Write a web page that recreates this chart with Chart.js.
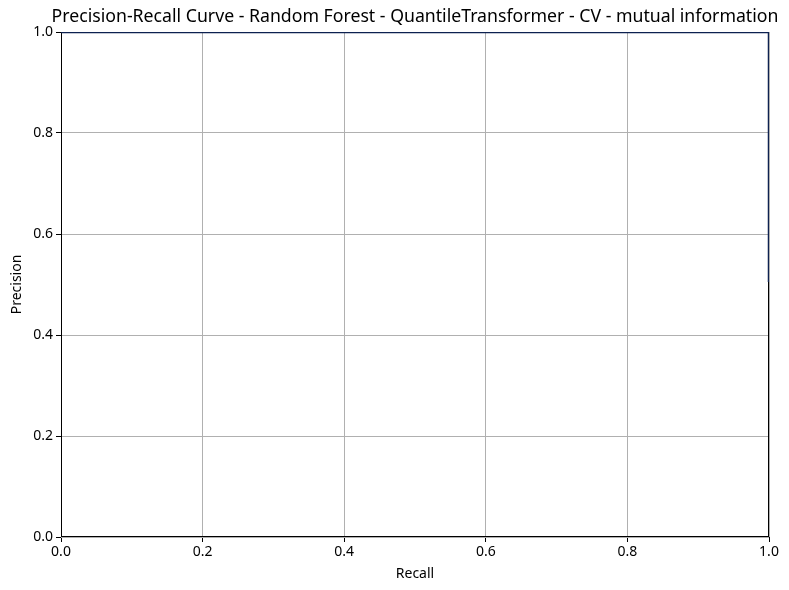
<!DOCTYPE html>
<html>
<head>
<meta charset="utf-8">
<script src="https://cdn.jsdelivr.net/npm/chart.js@4.4.1/dist/chart.umd.min.js"></script>
<style>
  html, body { margin: 0; padding: 0; background: #fff; }
  #wrap { width: 789px; height: 590px; }
</style>
</head>
<body>
<div id="wrap"><canvas id="c"></canvas></div>
<script>
// PR curve values
const recall = [1.0, 1.0, 0.0];
const precision = [0.505, 1.0, 1.0];
const axisTicks = [0, 0.2, 0.4, 0.6, 0.8, 1.0];

const chartTitle = 'Precision-Recall Curve - Random Forest - QuantileTransformer - CV - mutual information';
const FONT = 'Noto Sans';

const points = recall.map((r, i) => ({ x: r, y: precision[i] }));

// black frame round the plot area, drawn under the curve
const spines = {
  id: 'spines',
  beforeDatasetsDraw(chart) {
    const { ctx, chartArea: a } = chart;
    ctx.save();
    ctx.strokeStyle = '#000';
    ctx.lineWidth = 1;
    ctx.strokeRect(a.left + 0.5, a.top + 0.5, a.right - a.left - 1, a.bottom - a.top - 1);
    ctx.restore();
  }
};

// title centred over the plot area (it is wider than the plot, so no maxWidth)
const axesTitle = {
  id: 'axesTitle',
  afterDraw(chart) {
    const { ctx, chartArea: a } = chart;
    ctx.save();
    ctx.fillStyle = '#000';
    ctx.font = `17.7px "${FONT}"`;
    ctx.textAlign = 'center';
    ctx.textBaseline = 'middle';
    ctx.fillText(chartTitle, (a.left + a.right) / 2, a.top - 15);
    ctx.restore();
  }
};

new Chart(document.getElementById('c'), {
  type: 'scatter',
  data: {
    datasets: [{
      label: 'PR',
      data: points,
      showLine: true,
      borderColor: '#0d2150',
      borderWidth: 2.5,
      pointRadius: 0,
      fill: false
    }]
  },
  options: {
    responsive: true,
    maintainAspectRatio: false,
    animation: false,
    layout: { padding: { left: 0, right: 20, top: 32, bottom: 0 } },
    plugins: {
      legend: { display: false },
      tooltip: { enabled: false },
      title: { display: false }
    },
    scales: {
      x: {
        type: 'linear', min: 0, max: 1,
        afterBuildTicks: s => { s.ticks = axisTicks.map(v => ({ value: v })); },
        afterFit: s => { s.height = 53; },
        ticks: { color: '#000', font: { family: FONT, size: 14 }, padding: 2, callback: v => v.toFixed(1) },
        grid: { color: '#b0b0b0', lineWidth: 1, tickLength: 5, tickColor: '#000' },
        border: { display: false },
        title: { display: true, text: 'Recall', color: '#000', font: { family: FONT, size: 14 }, padding: { top: 0, bottom: 8 } }
      },
      y: {
        type: 'linear', min: 0, max: 1,
        afterBuildTicks: s => { s.ticks = axisTicks.map(v => ({ value: v })); },
        afterFit: s => { s.width = 61; },
        ticks: { color: '#000', font: { family: FONT, size: 14 }, padding: 3, callback: v => v.toFixed(1) },
        grid: { color: '#b0b0b0', lineWidth: 1, tickLength: 5, tickColor: '#000' },
        border: { display: false },
        title: { display: true, text: 'Precision', color: '#000', font: { family: FONT, size: 14 }, padding: { top: 9, bottom: 0 } }
      }
    }
  },
  plugins: [spines, axesTitle]
});
</script>
</body>
</html>
